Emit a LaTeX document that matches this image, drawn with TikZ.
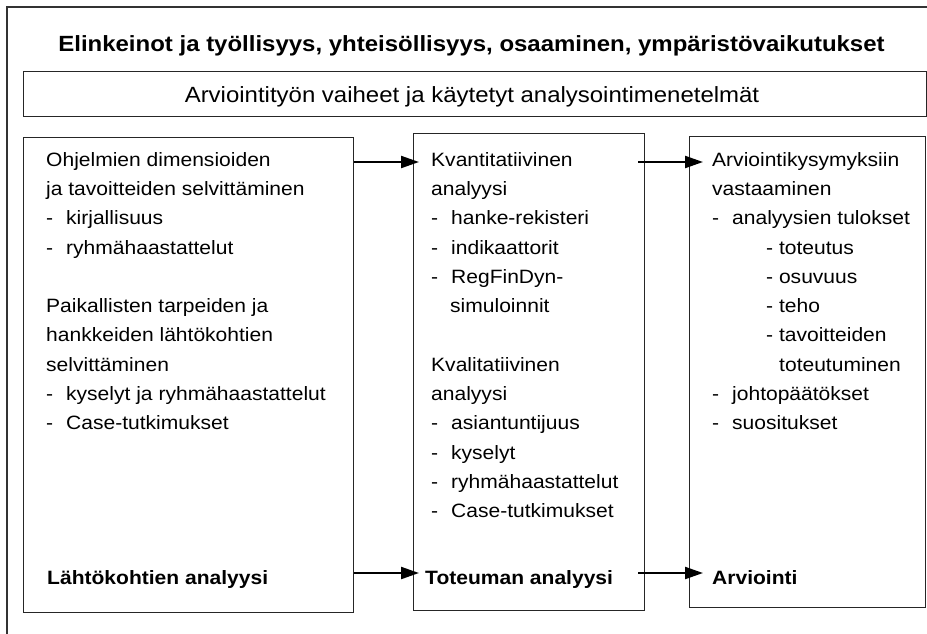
\documentclass[tikz,border=0pt]{standalone}
\usepackage{fontspec}
\setmainfont[FakeStretch=1.09]{Liberation Sans}
\usepackage{tikz}
\usetikzlibrary{arrows.meta,positioning,calc}
\tikzset{
  phasebox/.style={
    draw=black!85, line width=1.4pt, fill=none,
    anchor=north west, inner sep=0pt
  },
  phasetext/.style={
    align=left, anchor=north west, inner sep=0pt,
    font=\fontsize{19.3}{29.3}\selectfont
  },
  phaselabel/.style={anchor=base west, inner sep=0pt, font=\fontsize{19.3}{25}\selectfont\bfseries},
  phasetitle/.style={anchor=base, inner sep=0pt, font=\fontsize{22}{25}\selectfont\bfseries},
  phasesub/.style={anchor=base, inner sep=0pt, font=\fontsize{22}{26}\selectfont},
  phasearrow/.style={-{Triangle[length=18pt,width=12pt]}, line width=2.2pt},
  phaseframe/.style={draw=black!80, line width=1.3pt}
}
\newcommand{\itm}[1]{\makebox[20pt][l]{-}#1}
\newcommand{\subitm}[1]{\hspace*{54pt}- #1}
\newcommand{\cont}[1]{\hspace*{19pt}#1}

\begin{document}
\begin{tikzpicture}[x=1pt,y=-1pt]
  \useasboundingbox (0,0) rectangle (927,633);
  % outer frame, cut by the page
  \draw[phaseframe] (7,645) -- (7,7) -- (945,7);

  \node[phasetitle] (title) at (471.5,51)
    {Elinkeinot ja työllisyys, yhteisöllisyys, osaaminen, ympäristövaikutukset};
  \node[phasebox,minimum width=903pt,minimum height=45pt] (subbox) at (23,71) {};
  \node[phasesub] (sub) at (472,102) {Arviointityön vaiheet ja käytetyt analysointimenetelmät};

  % the three phases
  \node[phasebox,minimum width=330pt,minimum height=475pt] (box1) at (23,137) {};
  \node[phasebox,minimum width=231pt,minimum height=477pt] (box2) at (413,133) {};
  \node[phasebox,minimum width=236pt,minimum height=471pt] (box3) at (689,136) {};

  \node[phasetext] (ohj) at (46,152) {Ohjelmien dimensioiden\\
    ja tavoitteiden selvittäminen\\
    \itm{kirjallisuus}\\
    \itm{ryhmähaastattelut}\\[29.3pt]
    Paikallisten tarpeiden ja\\
    hankkeiden lähtökohtien\\
    selvittäminen\\
    \itm{kyselyt ja ryhmähaastattelut}\\
    \itm{Case-tutkimukset}};
  \node[phasetext] (kvant) at (431,152) {Kvantitatiivinen\\
    analyysi\\
    \itm{hanke-rekisteri}\\
    \itm{indikaattorit}\\
    \itm{RegFinDyn-}\\
    \cont{simuloinnit}\\[29.3pt]
    Kvalitatiivinen\\
    analyysi\\
    \itm{asiantuntijuus}\\
    \itm{kyselyt}\\
    \itm{ryhmähaastattelut}\\
    \itm{Case-tutkimukset}};
  \node[phasetext] (arvk) at (712,152) {Arviointikysymyksiin\\
    vastaaminen\\
    \itm{analyysien tulokset}\\
    \subitm{toteutus}\\
    \subitm{osuvuus}\\
    \subitm{teho}\\
    \subitm{tavoitteiden}\\
    \hspace*{67pt}toteutuminen\\
    \itm{johtopäätökset}\\
    \itm{suositukset}};

  \node[phaselabel] (lahto) at (47,584) {Lähtökohtien analyysi};
  \node[phaselabel] (toteuma) at (425,584) {Toteuman analyysi};
  \node[phaselabel] (arv) at (712,584) {Arviointi};

  \coordinate (a1) at ([shift={(-12pt,-10pt)}]kvant.north west);
  \coordinate (a2) at ([shift={(-9pt,-10pt)}]arvk.north west);
  \coordinate (b1) at ([shift={(-6pt,11pt)}]toteuma.base west);
  \coordinate (b2) at ([shift={(-9pt,11pt)}]arv.base west);
  \draw[phasearrow] (box1.east |- a1) -- (a1);
  \draw[phasearrow] ([xshift=-7pt]box2.east |- a2) -- (a2);
  \draw[phasearrow] (box1.east |- b1) -- (b1);
  \draw[phasearrow] ([xshift=-7pt]box2.east |- b2) -- (b2);
\end{tikzpicture}
\end{document}
